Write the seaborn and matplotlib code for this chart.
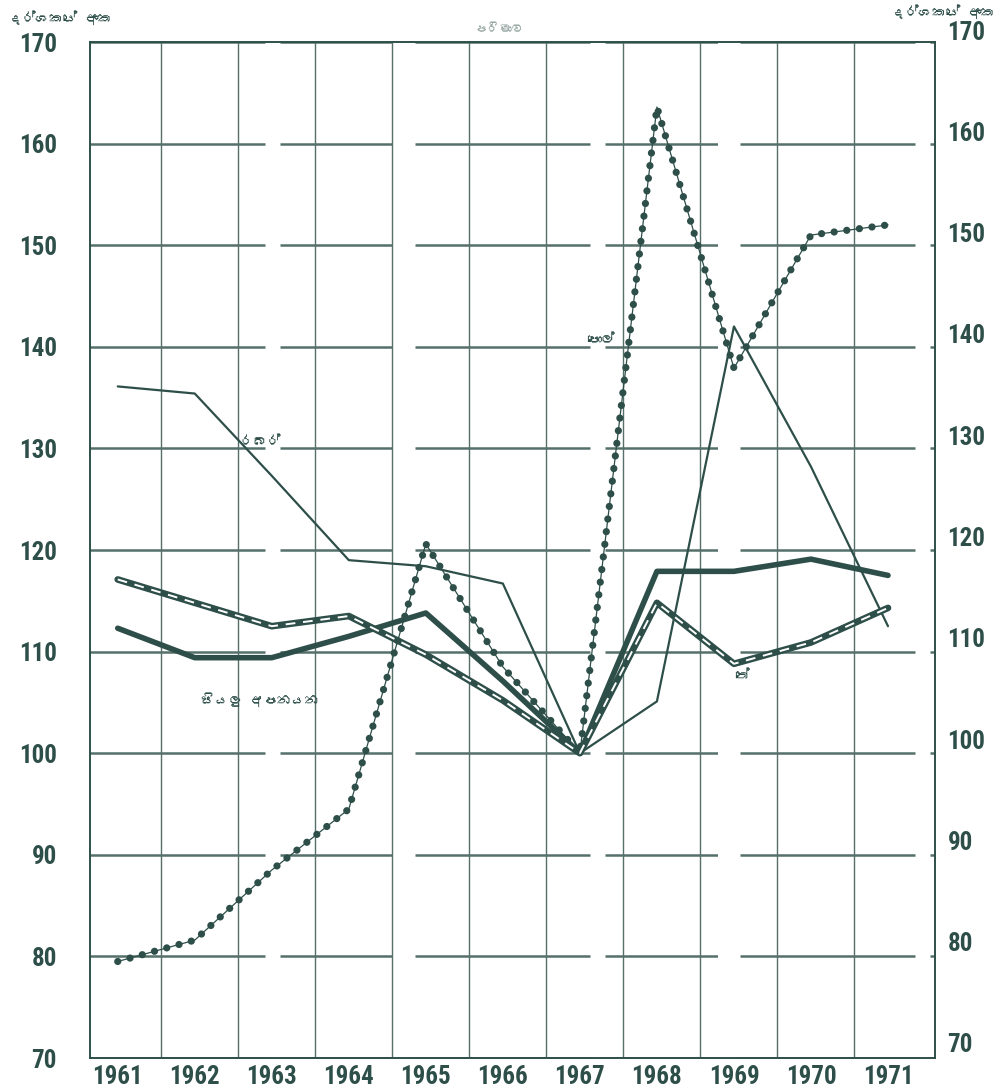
import numpy as np
import pandas as pd
import matplotlib
matplotlib.use("Agg")
import matplotlib.pyplot as plt
import seaborn as sns
from matplotlib import font_manager as fm
from matplotlib.ft2font import FT2Font

years = [1961, 1962, 1963, 1964, 1965, 1966, 1967, 1968, 1969, 1970, 1971]
all_exports = [112.3, 109.4, 109.4, 111.5, 113.8, 107.1, 100.0, 117.9, 117.9, 119.1, 117.5]
tea = [117.1, 114.8, 112.5, 113.5, 109.7, 105.2, 100.0, 114.8, 108.8, 110.9, 114.3]
rubber = [136.1, 135.4, 127.3, 119.0, 118.4, 116.7, 100.0, 105.1, 142.0, 128.2, 112.5]
coconut = [79.5, 81.6, 88.5, 94.5, 120.6, 108.5, 100.0, 163.6, 137.9, 151.0, 152.0]
y_ticks = [70, 80, 90, 100, 110, 120, 130, 140, 150, 160, 170]

lbl_axis = "දර්ශකයේ අංක"
lbl_title = "පරිමාව"
lbl_rubber = "රබර්"
lbl_coconut = "පොල්"
lbl_tea = "තේ"
lbl_all = "සියලු අපනයන"

sns.set_theme(style="white")

# a font with Sinhala glyphs, and a condensed bold face for the numbers
sinhala_font = None
cond_cands = []
for path in sorted(fm.findSystemFonts()):
    low = path.lower()
    try:
        cmap = FT2Font(path).get_charmap()
    except Exception:
        continue
    if sinhala_font is None and 0x0DBB in cmap and 0x0DB6 in cmap:
        sinhala_font = fm.FontProperties(fname=path).get_name()
    if ("narrow-bold" in low or "condensed-bold" in low or "condensedbold" in low) \
            and "dejavu" not in low and "italic" not in low and 0x0031 in cmap:
        cond_cands.append(path)

def _prio(p):
    low = p.lower()
    for i, key in enumerate(["liberationsansnarrow", "liberation", "roboto", "noto",
                             "opensans", "open-sans", "inter", "lato"]):
        if key in low.replace(" ", ""):
            return (i, p)
    return (99, p)

cond_cands.sort(key=_prio)
condensed_bold = cond_cands[0] if cond_cands else None

fams = ([sinhala_font] if sinhala_font else []) + ["DejaVu Sans"]
plt.rcParams["font.family"] = fams
if condensed_bold:
    num_prop = fm.FontProperties(fname=condensed_bold, size=18)
else:
    num_prop = fm.FontProperties(family="DejaVu Sans", weight="bold", size=14)

C = "#2e4f49"
GRID = "#55706a"

fig = plt.figure(figsize=(10, 10.92), dpi=100)
ax = fig.add_axes([0.09, 1 - 1058 / 1092, 0.845, (1058 - 42) / 1092])

df = pd.DataFrame({"year": years, "all": all_exports, "tea": tea,
                   "rubber": rubber, "coconut": coconut})

# grid
ax.set_ylim(70, 170)
ax.set_xlim(1960.64, 1971.61)
ax.set_yticks(y_ticks)
ax.set_xticks(years)
ax.set_xticks([y + 0.56 for y in years[:-1]], minor=True)
ax.yaxis.grid(True, color=GRID, lw=1.8, linestyle=(0, (70, 6, 45, 9)), zorder=0)
ax.xaxis.grid(True, which="minor", color=GRID, lw=1.0, zorder=0)
ax.xaxis.grid(False, which="major")
ax.set_axisbelow(True)

# series
sns.lineplot(data=df, x="year", y="rubber", ax=ax, color=C, lw=1.6, zorder=3)
sns.lineplot(data=df, x="year", y="coconut", ax=ax, color=C, lw=0.9, zorder=3)
sns.lineplot(data=df, x="year", y="coconut", ax=ax, color=C, lw=5.2,
             linestyle=(0, (0.01, 1.75)), dash_capstyle="round", zorder=4)
sns.lineplot(data=df, x="year", y="tea", ax=ax, color=C, lw=4.8, zorder=5)
sns.lineplot(data=df, x="year", y="tea", ax=ax, color="white", lw=1.4,
             linestyle=(0, (5, 4)), zorder=6)
sns.lineplot(data=df, x="year", y="all", ax=ax, color=C, lw=4.0, zorder=5)

ax.set_xlabel("")
ax.set_ylabel("")
for s in ax.spines.values():
    s.set_color(C)
    s.set_linewidth(1.4)

ax.tick_params(axis="both", length=0)
ax.tick_params(axis="y", pad=24)
ax.tick_params(axis="x", pad=5)
for t in ax.get_yticklabels() + ax.get_xticklabels():
    t.set_fontproperties(num_prop)
    t.set_color(C)

# right-hand scale (drawn slightly higher, as in the original)
ax2 = fig.add_axes([0.09, 1 - 1043 / 1092, 0.845, (1043 - 30) / 1092])
ax2.set_ylim(70, 170)
ax2.patch.set_visible(False)
for s in ax2.spines.values():
    s.set_visible(False)
ax2.set_xticks([])
ax2.yaxis.tick_right()
ax2.set_yticks(y_ticks)
ax2.tick_params(axis="y", length=0, pad=9)
for t in ax2.get_yticklabels():
    t.set_fontproperties(num_prop)
    t.set_color(C)

# texts
fig.text(0.008, 0.984, lbl_axis, fontsize=10, fontweight="bold", color=C,
         style="italic", ha="left", va="center")
fig.text(0.995, 0.989, lbl_axis, fontsize=10, fontweight="bold", color=C,
         ha="right", va="center")
fig.text(0.50, 0.973, lbl_title, fontsize=9, color="#9aaaa6", ha="center", va="center")
ax.text(1962.85, 130.6, lbl_rubber, fontsize=10, color=C, ha="center", va="center")
ax.text(1967.45, 140.6, lbl_coconut, fontsize=10, color=C, ha="right", va="center")
ax.text(1969.1, 107.6, lbl_tea, fontsize=10, color=C, ha="center", va="center")
ax.text(1962.85, 105.3, lbl_all, fontsize=10, color=C, ha="center", va="center")

fig.savefig("out.png", dpi=100, facecolor="white")
